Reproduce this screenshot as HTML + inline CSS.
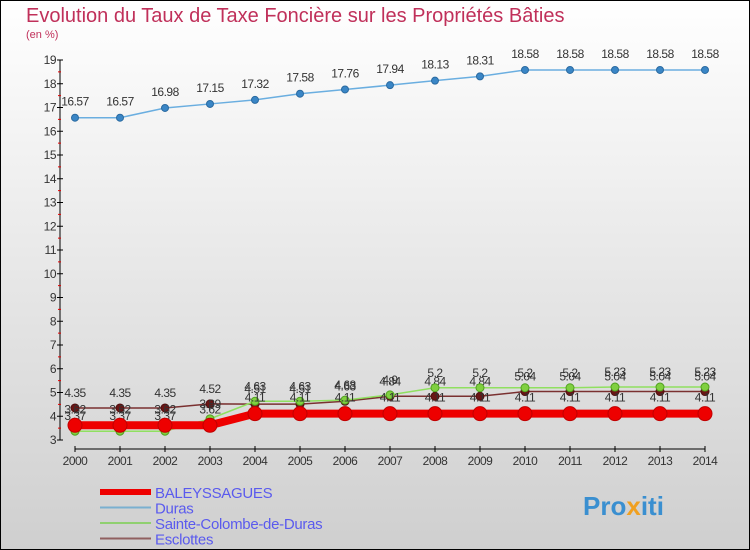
<!DOCTYPE html>
<html><head><meta charset="utf-8"><style>
body{margin:0}
#c{width:750px;height:550px;position:relative;overflow:hidden;font-family:"Liberation Sans",sans-serif}
</style></head><body>
<div id="c">
<svg id="s" width="750" height="550" xmlns="http://www.w3.org/2000/svg">
<defs><linearGradient id="bg" x1="0" y1="0" x2="0" y2="1"><stop offset="0" stop-color="#ffffff"/><stop offset="1" stop-color="#cfcfcf"/></linearGradient></defs>
<rect x="0.5" y="0.5" width="749" height="549" fill="url(#bg)" stroke="#000"/>
<text x="26" y="22" font-size="20" fill="#c0305a">Evolution du Taux de Taxe Foncière sur les Propriétés Bâties</text>
<text x="26" y="38" font-size="11" fill="#c0305a">(en %)</text>
<g id="axes"></g><g id="series"></g><g id="legend"></g>
<text x="583" y="515" font-size="26" font-weight="bold" fill="#3a8fd0">Pro<tspan fill="#f0a020">x</tspan>iti</text>
</svg></div>
<script>
const years=[2000,2001,2002,2003,2004,2005,2006,2007,2008,2009,2010,2011,2012,2013,2014];
const yTicks=[3,4,5,6,7,8,9,10,11,12,13,14,15,16,17,18,19];
const baley=[3.62,3.62,3.62,3.62,4.11,4.11,4.11,4.11,4.11,4.11,4.11,4.11,4.11,4.11,4.11];
const duras=[16.57,16.57,16.98,17.15,17.32,17.58,17.76,17.94,18.13,18.31,18.58,18.58,18.58,18.58,18.58];
const sainte=[3.37,3.37,3.37,3.89,4.63,4.63,4.68,4.9,5.2,5.2,5.2,5.2,5.23,5.23,5.23];
const escl=[4.35,4.35,4.35,4.52,4.51,4.51,4.63,4.84,4.84,4.84,5.04,5.04,5.04,5.04,5.04];
const NS="http://www.w3.org/2000/svg";
const X=i=>75+i*45, Y=v=>440-(v-3)*23.75;
function mk(t,a,p){const e=document.createElementNS(NS,t);for(const k in a)e.setAttribute(k,a[k]);p.appendChild(e);return e;}
const ax=document.getElementById('axes');
let l=mk('line',{x1:60,y1:Y(19),x2:60,y2:440,stroke:'#000'},ax);


l=mk('line',{x1:75,y1:449,x2:705,y2:449,stroke:'#000'},ax);


yTicks.forEach(v=>{mk('line',{x1:57,y1:Y(v),x2:63,y2:Y(v),stroke:'#000'},ax);
 if(v<19)mk('line',{x1:58,y1:Y(v+0.5),x2:61,y2:Y(v+0.5),stroke:'#e00000'},ax);
 const t=mk('text',{x:56,y:Y(v)+4,'font-size':12,fill:'#333','text-anchor':'end','letter-spacing':'-0.5'},ax);t.textContent=v;
 
 });
years.forEach((yr,i)=>{mk('line',{x1:X(i),y1:446,x2:X(i),y2:452,stroke:'#000'},ax);
 const t=mk('text',{x:X(i),y:465,'font-size':12,fill:'#333','text-anchor':'middle','letter-spacing':'-0.5'},ax);t.textContent=yr;
 
 });
const sg=document.getElementById('series');
function series(name,data,color,w,r,dot,dotStroke,lblOff){
 const g=mk('g',{},sg);
 
 
 const p=mk('polyline',{points:data.map((v,i)=>X(i)+','+Y(v)).join(' '),fill:'none',stroke:color,'stroke-width':w},g);
 
 
 data.forEach((v,i)=>{const c=mk('circle',{cx:X(i),cy:Y(v),r:r,fill:dot,stroke:dotStroke},g);
  
  
  const t=mk('text',{x:X(i),y:Y(v)+lblOff,'font-size':12,fill:'#333','text-anchor':'middle','letter-spacing':'-0.5'},g);t.textContent=v;
  
  });
}
series('duras',duras,'#6aaee0',1.5,3.5,'#3a86c6','#2a6aa0',-12);
series('esclottes',escl,'#7a3030',1.5,4,'#6a1515','#501010',-11);
series('sainte-colombe',sainte,'#90e060',1.5,4,'#80d040','#50a020',-11);
series('baleyssagues',baley,'#ee0000',8,7,'#ee0000','#c00000',-12);
const lg=document.getElementById('legend');
const leg=[['BALEYSSAGUES','#ee0000',6],['Duras','#7ab0d0',2],['Sainte-Colombe-de-Duras','#90d070',2],['Esclottes','#906060',2]];
leg.forEach((d,i)=>{const y=492+i*15.5;
 const g=mk('g',{},lg);
 
 
 mk('line',{x1:100,y1:y,x2:151,y2:y,stroke:d[1],'stroke-width':d[2]},g);
 const t=mk('text',{x:155,y:y+6,'font-size':15,fill:'#5a5aee','letter-spacing':'-0.3'},g);t.textContent=d[0];});
</script>
</body></html>
